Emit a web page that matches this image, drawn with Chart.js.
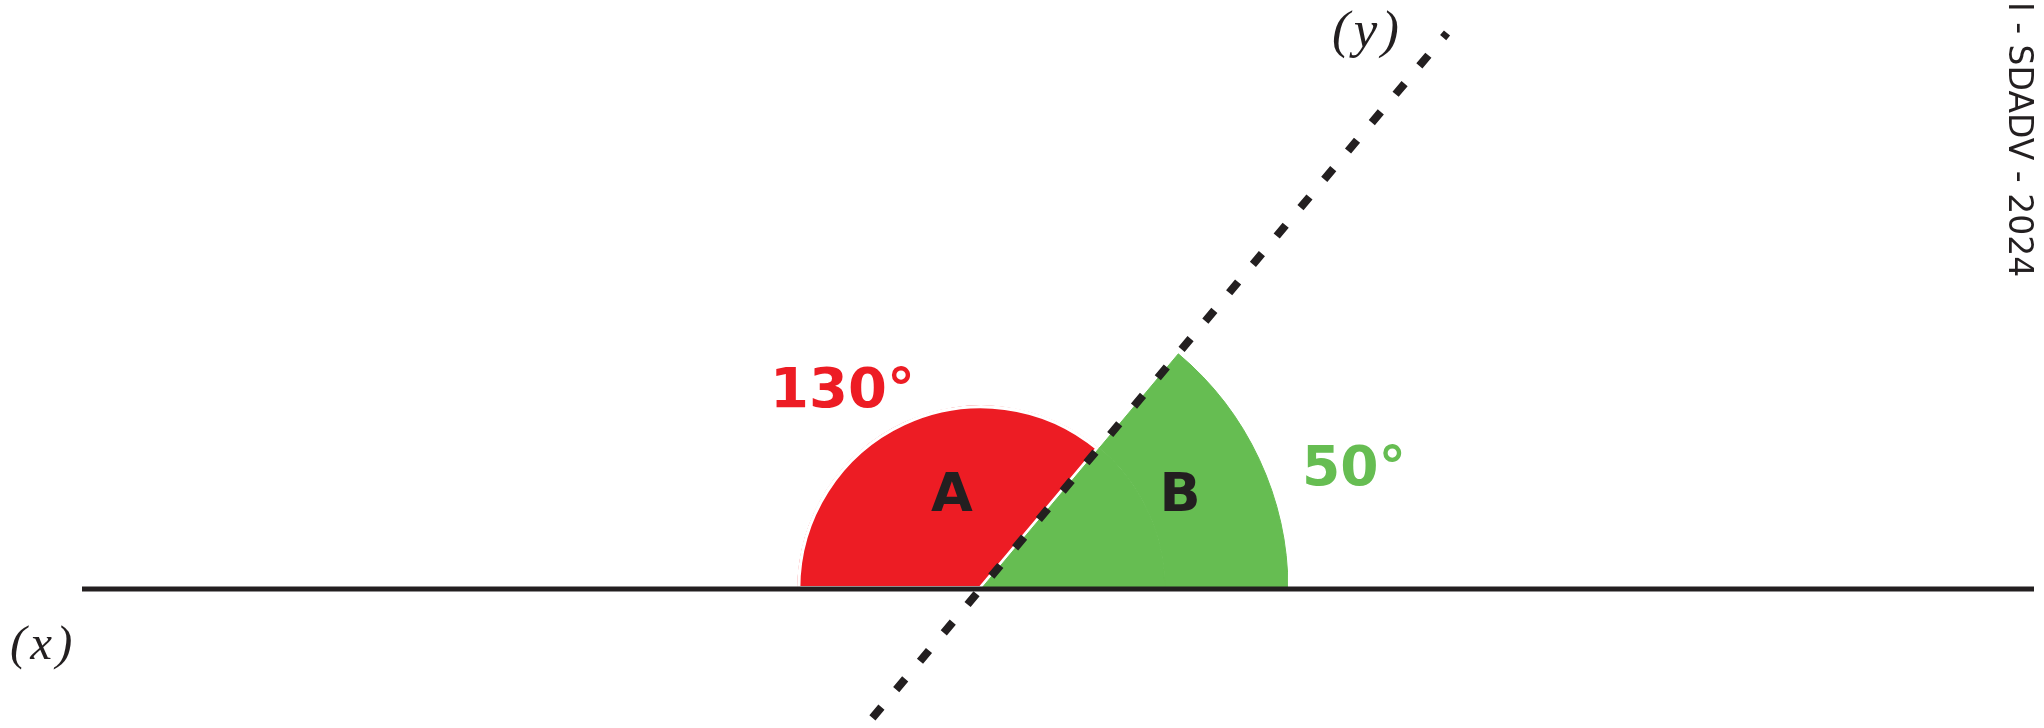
<!DOCTYPE html>
<html>
<head>
<meta charset="utf-8">
<script src="https://cdn.jsdelivr.net/npm/chart.js@4.4.1/dist/chart.umd.min.js"></script>
<style>
  html, body { margin:0; padding:0; background:#fff; overflow:hidden; }
  body { width:2044px; height:728px; position:relative; font-family:"DejaVu Sans", sans-serif; color:#231f20; }
  .box { position:absolute; }
  .lbl { position:absolute; line-height:1; white-space:nowrap; font-weight:700; }
  .var { position:absolute; line-height:1; white-space:nowrap; font-family:"Liberation Serif", serif; font-style:italic; letter-spacing:4px; }
</style>
</head>
<body>
  <!-- angles (pie, centred on the crossing point) -->
  <div class="box" id="wrap-angles" style="left:674px;top:282px;width:614px;height:307px;z-index:1"><canvas id="chart-angles"></canvas></div>
  <!-- the two lines -->
  <div class="box" id="wrap-lines" style="left:0;top:0;width:2044px;height:728px;z-index:2"><canvas id="chart-lines"></canvas></div>

  <div class="lbl" style="left:770px;top:360px;font-size:56px;color:#ed1c24;z-index:3">130°</div>
  <div class="lbl" style="left:1302px;top:439px;font-size:55px;color:#66bd52;z-index:3">50°</div>
  <div class="lbl" style="left:902px;top:466px;width:100px;text-align:center;font-size:54px;z-index:3">A</div>
  <div class="lbl" style="left:1130px;top:466px;width:100px;text-align:center;font-size:54px;z-index:3">B</div>

  <div class="var" style="left:1332px;top:3px;font-size:53px;z-index:3">(y)</div>
  <div class="var" style="left:10px;top:618px;font-size:49px;z-index:3">(x)</div>

  <div style="position:absolute;left:2037px;top:2px;font-size:33px;line-height:1;white-space:nowrap;transform-origin:0 0;transform:rotate(90deg);z-index:3">I - SDADV - 2024</div>

<script>
// angles, read clockwise from the left half-line: A then B
const angleNames = ['A', 'B'];
const angleValues = [130, 50];
const angleRadius = [184, 307];   // drawn radius of each sector
const angleColors = ['#ed1c24', '#66bd52'];

// line (x) and line (y), in px from the crossing point, y up
const lineX = [{x:-899, y:0}, {x:1053, y:0}];
const lineY = [{x:466, y:556}, {x:-112, y:-133}];

(function(){
  const rMax = Math.max(...angleRadius);
  const rMin = Math.min(...angleRadius);

  new Chart(document.getElementById('chart-angles'), {
    type:'pie',
    data:{ labels:angleNames, datasets:[
      { // outer ring: only the big sector reaches out here
        data:angleValues, weight:rMax - rMin,
        backgroundColor:angleValues.map((v,i) => angleRadius[i] > rMin ? angleColors[i] : 'rgba(0,0,0,0)'),
        borderColor:angleColors, borderWidth:angleValues.map((v,i) => angleRadius[i] > rMin ? 1 : 0)
      },
      { // inner ring: both sectors
        data:angleValues, weight:rMin,
        backgroundColor:angleColors,
        borderColor:['#ffffff', angleColors[1]], borderWidth:[3, 1], borderAlign:['inner', 'center']
      }
    ]},
    options:{
      responsive:true, maintainAspectRatio:false, animation:false, events:[],
      rotation:-90, circumference:180, radius:rMax, hoverOffset:0,
      layout:{ padding:0 },
      plugins:{ legend:{ display:false }, tooltip:{ enabled:false } }
    }
  });

  new Chart(document.getElementById('chart-lines'), {
    type:'scatter',
    data:{ datasets:[
      { data:lineX, showLine:true, borderColor:'#231f20', borderWidth:5, pointRadius:0, borderCapStyle:'butt' },
      { data:lineY, showLine:true, borderColor:'#231f20', borderWidth:8, pointRadius:0, borderCapStyle:'butt', borderDash:[14, 23], borderDashOffset:8 }
    ]},
    options:{
      responsive:true, maintainAspectRatio:false, animation:false, events:[],
      layout:{ padding:0 },
      scales:{
        x:{ type:'linear', min:-981, max:1063, display:false },
        y:{ type:'linear', min:-139, max:589, display:false }
      },
      plugins:{ legend:{ display:false }, tooltip:{ enabled:false } }
    }
  });
})();
</script>
</body>
</html>
